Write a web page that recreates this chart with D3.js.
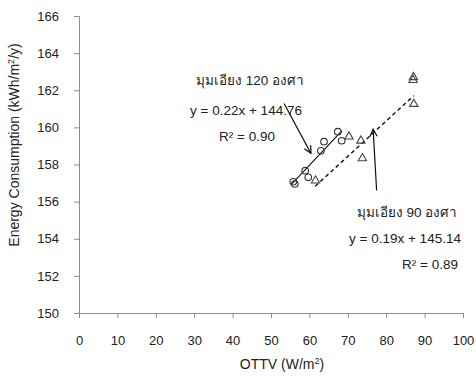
<!DOCTYPE html>
<html>
<head>
<meta charset="utf-8">
<script src="https://cdn.jsdelivr.net/npm/d3@7"></script>
<style>
  html, body { margin: 0; padding: 0; background: #fff; }
  svg { display: block; font-family: "Liberation Sans", Arial, sans-serif; }
</style>
</head>
<body>
<svg id="chart" width="476" height="376"></svg>
<script>
// OTTV vs. energy consumption for two wall tilt angles
const xTickValues = [0, 10, 20, 30, 40, 50, 60, 70, 80, 90, 100];
const yTickValues = [150, 152, 154, 156, 158, 160, 162, 164, 166];

// tilt 120 degrees (circles)
const tilt120X = [55.8, 56.2, 58.9, 59.7, 63.0, 63.8, 67.4, 68.4];
const tilt120Y = [157.07, 156.95, 157.67, 157.31, 158.74, 159.23, 159.77, 159.28];

// tilt 90 degrees (triangles)
const tilt90X = [61.6, 70.3, 73.4, 73.8, 87.0, 87.1, 87.2];
const tilt90Y = [157.13, 159.50, 159.28, 158.33, 162.55, 162.70, 161.26];

// linear trend lines: y = slope * x + intercept
const trendSlopes = [0.22, 0.19];
const trendIntercepts = [144.76, 145.14];
const trendFrom = [55.5, 61.5];
const trendTo = [68.5, 87.2];

const labels120 = ["มุมเอียง 120 องศา", "y = 0.22x + 144.76", "R² = 0.90"];
const labels90 = ["มุมเอียง 90 องศา", "y = 0.19x + 145.14", "R² = 0.89"];

const svg = d3.select("#chart");
const x = d3.scaleLinear().domain([0, 100]).range([79, 463]);
const y = d3.scaleLinear().domain([150, 166]).range([313, 16]);

const axisColor = "#8c8c8c";
const textColor = "#222";

// axes
const xAxis = svg.append("g")
  .attr("transform", `translate(0,${y(150)})`)
  .call(d3.axisBottom(x).tickValues(xTickValues).tickSize(5).tickPadding(18).tickFormat(d3.format("d")));
const yAxis = svg.append("g")
  .attr("transform", `translate(${x(0)},0)`)
  .call(d3.axisLeft(y).tickValues(yTickValues).tickSize(5).tickPadding(15).tickFormat(d3.format("d")));
[xAxis, yAxis].forEach(g => {
  g.selectAll("path.domain").attr("stroke", axisColor).attr("stroke-width", 1);
  g.selectAll(".tick line").attr("stroke", axisColor);
  g.selectAll(".tick text").attr("fill", textColor).style("font-size", "13px")
    .style("font-family", "'Liberation Sans', Arial, sans-serif");
});

// axis titles
const xTitle = svg.append("text")
  .attr("x", 282).attr("y", 369)
  .attr("text-anchor", "middle").attr("fill", textColor).style("font-size", "14px");
xTitle.append("tspan").text("OTTV (W/m");
xTitle.append("tspan").attr("dy", -5).style("font-size", "9px").text("2");
xTitle.append("tspan").attr("dy", 5).text(")");

const yTitle = svg.append("text")
  .attr("transform", `translate(19,145) rotate(-90)`)
  .attr("text-anchor", "middle").attr("fill", textColor).style("font-size", "14px");
yTitle.append("tspan").text("Energy Consumption (kWh/m");
yTitle.append("tspan").attr("dy", -5).style("font-size", "9px").text("2");
yTitle.append("tspan").attr("dy", 5).text("/y)");

// trend lines
const trendStyles = [{ dash: null, width: 1.1 }, { dash: "4,3", width: 1.4 }];
trendSlopes.forEach((m, i) => {
  svg.append("line")
    .attr("x1", x(trendFrom[i])).attr("y1", y(m * trendFrom[i] + trendIntercepts[i]))
    .attr("x2", x(trendTo[i])).attr("y2", y(m * trendTo[i] + trendIntercepts[i]))
    .attr("stroke", "#111").attr("stroke-width", trendStyles[i].width)
    .attr("stroke-dasharray", trendStyles[i].dash);
});

// circle markers
svg.append("g").selectAll("circle")
  .data(d3.zip(tilt120X, tilt120Y))
  .join("circle")
  .attr("cx", d => x(d[0])).attr("cy", d => y(d[1])).attr("r", 3.3)
  .attr("fill", "none").attr("stroke", "#333").attr("stroke-width", 1.1);

// triangle markers
const tri = d3.symbol().type(d3.symbolTriangle).size(30);
svg.append("g").selectAll("path")
  .data(d3.zip(tilt90X, tilt90Y))
  .join("path")
  .attr("d", tri)
  .attr("transform", d => `translate(${x(d[0])},${y(d[1])})`)
  .attr("fill", "none").attr("stroke", "#444").attr("stroke-width", 1.1);

// arrow heads
svg.append("defs").append("marker")
  .attr("id", "head").attr("viewBox", "0 0 10 10")
  .attr("refX", 9).attr("refY", 5).attr("markerWidth", 9).attr("markerHeight", 9)
  .attr("markerUnits", "userSpaceOnUse").attr("orient", "auto")
  .append("path").attr("d", "M1,1 L9,5 L1,9").attr("fill", "none")
  .attr("stroke", "#111").attr("stroke-width", 1.4);

// callout arrows
svg.append("line")
  .attr("x1", x(53.4)).attr("y1", y(161.29)).attr("x2", x(60.4)).attr("y2", y(158.6))
  .attr("stroke", "#111").attr("stroke-width", 1.2).attr("marker-end", "url(#head)");
svg.append("line")
  .attr("x1", x(77.5)).attr("y1", y(156.6)).attr("x2", x(76.6)).attr("y2", y(159.9))
  .attr("stroke", "#111").attr("stroke-width", 1.2).attr("marker-end", "url(#head)");

// annotation labels
const notes = svg.append("g").attr("fill", textColor).style("font-size", "13.5px");
notes.append("text").attr("x", 250).attr("y", 85).attr("text-anchor", "middle").text(labels120[0]);
notes.append("text").attr("x", 246).attr("y", 115).attr("text-anchor", "middle").text(labels120[1]);
notes.append("text").attr("x", 247).attr("y", 141).attr("text-anchor", "middle").text(labels120[2]);
notes.append("text").attr("x", 407).attr("y", 217).attr("text-anchor", "middle").text(labels90[0]);
notes.append("text").attr("x", 405).attr("y", 243).attr("text-anchor", "middle").text(labels90[1]);
notes.append("text").attr("x", 430).attr("y", 269).attr("text-anchor", "middle").text(labels90[2]);
</script>
</body>
</html>
